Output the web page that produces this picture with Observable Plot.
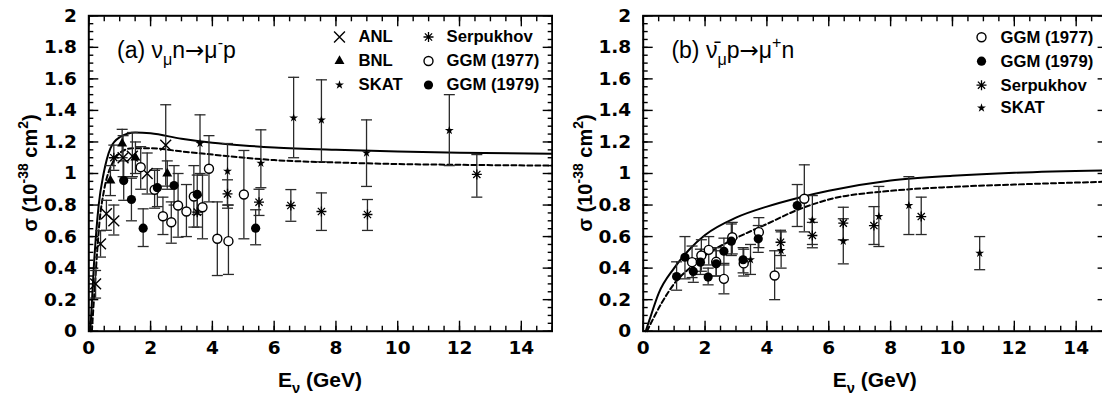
<!DOCTYPE html>
<html><head><meta charset="utf-8">
<script src="https://cdn.jsdelivr.net/npm/d3@7"></script>
<script src="https://cdn.jsdelivr.net/npm/@observablehq/plot@0.6"></script>
<style>
html,body{margin:0;padding:0;background:#fff;overflow:hidden;}
#wrap{display:flex;width:1102px;height:397px;overflow:hidden;background:#fff;}
#wrap svg{flex:none;display:block;}
</style></head><body><div id="wrap"></div>
<script>
// ---------- tick labels ----------
const X_TICKS = [0, 2, 4, 6, 8, 10, 12, 14];
const Y_TICKS = [0, 0.2, 0.4, 0.6, 0.8, 1, 1.2, 1.4, 1.6, 1.8, 2];
const X_MINOR = d3.range(0, 31).map(i => i * 0.5);
const Y_MINOR = d3.range(0, 41).map(i => +(i * 0.05).toFixed(2));

// ---------- panel (a): nu_mu n -> mu- p ----------
const a_solid_x = [0.05, 0.16, 0.32, 0.48, 0.7, 1.0, 1.5, 2.0, 3.0, 4.0, 5.0, 6.0, 8.0, 10.0, 12.0, 15.0];
const a_solid_y = [0.0, 0.40, 0.80, 1.00, 1.16, 1.23, 1.26, 1.255, 1.22, 1.195, 1.178, 1.165, 1.15, 1.14, 1.132, 1.125];
const a_dash_x = [0.1, 0.2, 0.35, 0.5, 0.75, 1.0, 1.4, 2.0, 3.0, 4.0, 6.0, 8.0, 10.0, 12.0, 15.0];
const a_dash_y = [0.0, 0.30, 0.70, 0.90, 1.06, 1.13, 1.16, 1.16, 1.14, 1.12, 1.085, 1.07, 1.06, 1.055, 1.05];

const a_anl_x  = [0.22, 0.38, 0.57, 0.81, 1.11, 1.41, 1.89, 2.49];
const a_anl_y  = [0.30, 0.554, 0.745, 0.70, 1.10, 1.11, 1.00, 1.18];
const a_anl_lo = [0.21, 0.47, 0.64, 0.61, 0.98, 0.98, 0.87, 0.92];
const a_anl_hi = [0.385, 0.637, 0.83, 0.80, 1.24, 1.26, 1.13, 1.436];

const a_bnl_x  = [0.70, 1.08, 1.51, 2.54];
const a_bnl_y  = [0.955, 1.19, 1.10, 1.00];
const a_bnl_lo = [0.86, 1.10, 1.00, 0.90];
const a_bnl_hi = [1.05, 1.28, 1.20, 1.08];

const a_skat_x  = [3.60, 4.49, 5.57, 6.63, 7.53, 8.99, 11.67];
const a_skat_y  = [1.19, 1.015, 1.065, 1.353, 1.34, 1.13, 1.273];
const a_skat_lo = [1.00, 0.80, 0.91, 1.10, 1.074, 0.918, 1.05];
const a_skat_hi = [1.372, 1.19, 1.277, 1.61, 1.594, 1.34, 1.50];

const a_serp_x  = [0.81, 3.51, 4.49, 5.51, 6.54, 7.53, 9.02, 12.56];
const a_serp_y  = [1.10, 0.755, 0.871, 0.818, 0.797, 0.759, 0.74, 0.994];
const a_serp_lo = [1.02, 0.66, 0.78, 0.734, 0.697, 0.639, 0.639, 0.85];
const a_serp_hi = [1.18, 0.86, 0.96, 0.90, 0.898, 0.877, 0.835, 1.12];

const a_g77_x  = [1.68, 2.13, 2.40, 2.67, 2.89, 3.16, 3.40, 3.68, 3.89, 4.16, 4.52, 5.02];
const a_g77_y  = [1.04, 0.897, 0.729, 0.691, 0.797, 0.759, 0.854, 0.786, 1.03, 0.586, 0.571, 0.867];
const a_g77_lo = [0.90, 0.78, 0.613, 0.558, 0.596, 0.60, 0.66, 0.586, 0.82, 0.353, 0.36, 0.586];
const a_g77_hi = [1.17, 1.02, 0.85, 0.82, 1.00, 0.93, 1.05, 0.99, 1.24, 0.82, 0.80, 1.146];

const a_g79_x  = [1.13, 1.38, 1.76, 2.22, 2.76, 3.51, 5.40];
const a_g79_y  = [0.955, 0.835, 0.653, 0.91, 0.924, 0.867, 0.653];
const a_g79_lo = [0.83, 0.70, 0.537, 0.79, 0.80, 0.74, 0.548];
const a_g79_hi = [1.08, 0.97, 0.776, 1.03, 1.05, 0.99, 0.77];

// ---------- panel (b): anti-nu_mu p -> mu+ n ----------
const b_solid_x = [0.08, 0.2, 0.5, 1.0, 1.5, 2.0, 3.0, 4.0, 5.0, 6.0, 8.0, 10.0, 12.0, 15.0];
const b_solid_y = [0.0, 0.07, 0.24, 0.40, 0.52, 0.61, 0.72, 0.79, 0.845, 0.89, 0.955, 0.985, 1.005, 1.02];
const b_dash_x = [0.12, 0.3, 0.6, 1.0, 1.5, 2.0, 3.0, 4.0, 5.0, 6.0, 8.0, 10.0, 12.0, 15.0];
const b_dash_y = [0.0, 0.07, 0.18, 0.30, 0.40, 0.48, 0.59, 0.68, 0.77, 0.835, 0.89, 0.915, 0.93, 0.948];

const b_g77_x  = [1.58, 1.88, 2.12, 2.36, 2.61, 2.88, 3.25, 3.74, 4.25, 5.21];
const b_g77_y  = [0.438, 0.48, 0.516, 0.44, 0.332, 0.596, 0.43, 0.628, 0.353, 0.84];
const b_g77_lo = [0.34, 0.38, 0.42, 0.35, 0.237, 0.49, 0.35, 0.53, 0.20, 0.63];
const b_g77_hi = [0.54, 0.58, 0.60, 0.53, 0.43, 0.69, 0.52, 0.72, 0.51, 1.055];

const b_g79_x  = [1.08, 1.35, 1.62, 1.85, 2.10, 2.36, 2.61, 2.85, 3.23, 3.72, 4.98];
const b_g79_y  = [0.347, 0.469, 0.379, 0.438, 0.343, 0.427, 0.507, 0.571, 0.453, 0.586, 0.797];
const b_g79_lo = [0.26, 0.332, 0.31, 0.36, 0.294, 0.35, 0.42, 0.48, 0.37, 0.50, 0.664];
const b_g79_hi = [0.44, 0.60, 0.46, 0.52, 0.40, 0.51, 0.59, 0.68, 0.53, 0.67, 0.93];

const b_serp_x  = [4.44, 5.47, 6.47, 7.46, 8.99];
const b_serp_y  = [0.564, 0.607, 0.685, 0.67, 0.727];
const b_serp_lo = [0.48, 0.529, 0.58, 0.55, 0.613];
const b_serp_hi = [0.64, 0.69, 0.786, 0.79, 0.85];

const b_skat_x  = [3.47, 4.46, 5.47, 6.47, 7.62, 8.59, 10.88];
const b_skat_y  = [0.453, 0.512, 0.706, 0.571, 0.727, 0.797, 0.495];
const b_skat_lo = [0.36, 0.40, 0.55, 0.427, 0.537, 0.613, 0.39];
const b_skat_hi = [0.55, 0.63, 0.86, 0.713, 0.918, 0.98, 0.60];

// ---------- helpers ----------
const rows = (xs, ys, lo, hi) => xs.map((x, i) => ({x, y: ys[i], lo: lo[i], hi: hi[i]}));
const pts = (xs, ys) => xs.map((x, i) => ({x, y: ys[i]}));

const capSym = {draw(ctx, size) { const r = Math.sqrt(size / Math.PI); ctx.moveTo(-r, 0); ctx.lineTo(r, 0); }};
const astSym = {draw(ctx, size) {
  const r = Math.sqrt(size / Math.PI), d = r * 0.72;
  ctx.moveTo(-r, 0); ctx.lineTo(r, 0); ctx.moveTo(0, -r); ctx.lineTo(0, r);
  ctx.moveTo(-d, -d); ctx.lineTo(d, d); ctx.moveTo(-d, d); ctx.lineTo(d, -d);
}};

const STY = {
  anl:  {symbol: "times", r: 5.0, stroke: "black", fill: "none", strokeWidth: 1.4},
  bnl:  {symbol: "triangle", r: 3.7, fill: "black", stroke: "none"},
  skat: {symbol: "star", r: 2.8, fill: "black", stroke: "none"},
  serp: {symbol: astSym, r: 5.0, stroke: "black", fill: "none", strokeWidth: 1.3},
  g77:  {symbol: "circle", r: 4.5, fill: "white", stroke: "black", strokeWidth: 1.4},
  g79:  {symbol: "circle", r: 4.6, fill: "black", stroke: "none"}
};

function rich(svg, parts, {x, y, size, weight = "normal", family = "Liberation Sans", anchor = "start", rotate = 0}) {
  const t = d3.select(svg).append("text")
    .attr("transform", `translate(${x},${y})` + (rotate ? ` rotate(${rotate})` : ""))
    .attr("font-size", size).attr("font-weight", weight).attr("font-family", family)
    .attr("text-anchor", anchor).attr("fill", "black");
  let shift = 0;
  for (const p of parts) {
    const [txt, kind] = typeof p === "string" ? [p, null] : p;
    const target = kind === "sub" ? 0.3 * size : kind === "sup" ? -0.45 * size : 0;
    const ts = t.append("tspan").attr("dy", target - shift).attr("font-size", (kind === "sub" || kind === "sup") ? size * 0.7 : size).text(txt);
    if (kind === "arrow") ts.attr("font-family", "DejaVu Sans");
    shift = target;
  }
}

function makePanel(cfg) {
  const {width, marginLeft, marginRight, solid, dashed, series, legend} = cfg;
  const marginTop = 15.3, marginBottom = 66.3, height = 397;
  const marks = [];
  const tick = (axis, ticks, anchor, size) => axis(ticks, {anchor, tickSize: -size, fill: null, label: null, stroke: "black", strokeWidth: 1.4});
  for (const an of ["bottom", "top"]) { marks.push(tick(Plot.axisX, X_MINOR, an, 5), tick(Plot.axisX, X_TICKS, an, 10)); }
  for (const an of ["left", "right"]) { marks.push(tick(Plot.axisY, Y_MINOR, an, 5), tick(Plot.axisY, Y_TICKS, an, 10)); }
  marks.push(Plot.axisX(X_TICKS, {anchor: "bottom", tickSize: 0, tickPadding: 10, label: null, fontSize: 18.5, fontWeight: "bold", fontFamily: "DejaVu Sans", fill: "black", tickFormat: d => String(d)}));
  marks.push(Plot.axisY(Y_TICKS, {anchor: "left", tickSize: 0, tickPadding: 12, label: null, fontSize: 18.5, fontWeight: "bold", fontFamily: "DejaVu Sans", fill: "black", tickFormat: d => String(d)}));
  marks.push(Plot.line(solid, {x: "x", y: "y", curve: "monotone-x", stroke: "black", strokeWidth: 2}));
  marks.push(Plot.line(dashed, {x: "x", y: "y", curve: "monotone-x", stroke: "black", strokeWidth: 2, strokeDasharray: "5,3"}));
  for (const s of series) {
    marks.push(Plot.ruleX(s.data, {x: "x", y1: "lo", y2: "hi", stroke: "#2a2a2a", strokeWidth: 1.3}));
    marks.push(Plot.dot(s.data, {x: "x", y: "lo", symbol: capSym, r: 5.5, stroke: "#2a2a2a", strokeWidth: 1.3, fill: "none"}));
    marks.push(Plot.dot(s.data, {x: "x", y: "hi", symbol: capSym, r: 5.5, stroke: "#2a2a2a", strokeWidth: 1.3, fill: "none"}));
  }
  for (const s of series) marks.push(Plot.dot(s.data, {x: "x", y: "y", ...STY[s.key]}));
  for (const e of legend) {
    marks.push(Plot.dot([0], {frameAnchor: "top-left", dx: e.sx, dy: e.dy, ...STY[e.key]}));
    marks.push(Plot.text([e.label], {frameAnchor: "top-left", dx: e.tx, dy: e.dy, text: d => d, textAnchor: "start", lineAnchor: "middle", fontSize: 16.7, fontWeight: "bold", fontFamily: "Liberation Sans", fill: "black"}));
  }
  marks.push(Plot.frame({stroke: "black", strokeWidth: 2}));
  const svg = Plot.plot({
    width, height, marginLeft, marginRight, marginTop, marginBottom,
    x: {domain: [0, 15]}, y: {domain: [0, 2]},
    style: {background: "white", color: "black", fontFamily: "Liberation Sans", overflow: "visible"},
    marks
  });
  const fx0 = marginLeft, fx1 = width - marginRight;
  rich(svg, cfg.title, {x: fx0 + 28.7, y: 58, size: 23});
  rich(svg, ["E", ["ν", "sub"], " (GeV)"], {x: (fx0 + fx1) / 2, y: 387, size: 21, weight: "bold", anchor: "middle"});
  rich(svg, ["σ (10", ["-38", "sup"], " cm", ["2", "sup"], ")"], {x: fx0 - 51, y: (marginTop + height - marginBottom) / 2, size: 20, weight: "bold", anchor: "middle", rotate: -90});
  return svg;
}

const wrap = document.getElementById("wrap");
wrap.appendChild(makePanel({
  width: 553, marginLeft: 88.3, marginRight: 1.3,
  solid: pts(a_solid_x, a_solid_y), dashed: pts(a_dash_x, a_dash_y),
  title: ["(a) ν", ["μ", "sub"], "n", ["→", "arrow"], "μ", ["-", "sup"], "p"],
  series: [
    {key: "anl", data: rows(a_anl_x, a_anl_y, a_anl_lo, a_anl_hi)},
    {key: "bnl", data: rows(a_bnl_x, a_bnl_y, a_bnl_lo, a_bnl_hi)},
    {key: "skat", data: rows(a_skat_x, a_skat_y, a_skat_lo, a_skat_hi)},
    {key: "serp", data: rows(a_serp_x, a_serp_y, a_serp_lo, a_serp_hi)},
    {key: "g77", data: rows(a_g77_x, a_g77_y, a_g77_lo, a_g77_hi)},
    {key: "g79", data: rows(a_g79_x, a_g79_y, a_g79_lo, a_g79_hi)}
  ],
  legend: [
    {key: "anl", label: "ANL", sx: 250.7, tx: 269.7, dy: 21.2},
    {key: "bnl", label: "BNL", sx: 250.7, tx: 269.7, dy: 45.2},
    {key: "skat", label: "SKAT", sx: 250.7, tx: 269.7, dy: 69.2},
    {key: "serp", label: "Serpukhov", sx: 339.7, tx: 357.7, dy: 21.2},
    {key: "g77", label: "GGM (1977)", sx: 339.7, tx: 357.7, dy: 45.2},
    {key: "g79", label: "GGM (1979)", sx: 339.7, tx: 357.7, dy: 69.2}
  ]
}));
wrap.appendChild(makePanel({
  width: 556, marginLeft: 89.7, marginRight: 2.4,
  solid: pts(b_solid_x, b_solid_y), dashed: pts(b_dash_x, b_dash_y),
  title: ["(b) ν̄", ["μ", "sub"], "p", ["→", "arrow"], "μ", ["+", "sup"], "n"],
  series: [
    {key: "g77", data: rows(b_g77_x, b_g77_y, b_g77_lo, b_g77_hi)},
    {key: "g79", data: rows(b_g79_x, b_g79_y, b_g79_lo, b_g79_hi)},
    {key: "serp", data: rows(b_serp_x, b_serp_y, b_serp_lo, b_serp_hi)},
    {key: "skat", data: rows(b_skat_x, b_skat_y, b_skat_lo, b_skat_hi)}
  ],
  legend: [
    {key: "g77", label: "GGM (1977)", sx: 338.3, tx: 357.3, dy: 21.4},
    {key: "g79", label: "GGM (1979)", sx: 338.3, tx: 357.3, dy: 45.4},
    {key: "serp", label: "Serpukhov", sx: 338.3, tx: 357.3, dy: 69.4},
    {key: "skat", label: "SKAT", sx: 338.3, tx: 357.3, dy: 92.2}
  ]
}));
</script></body></html>
